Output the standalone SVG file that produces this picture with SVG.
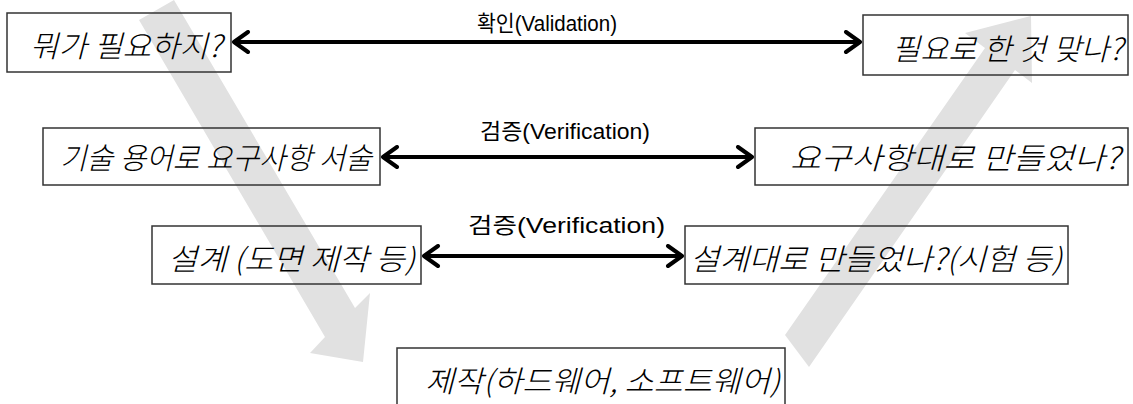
<svg xmlns="http://www.w3.org/2000/svg" width="1133" height="404" viewBox="0 0 1133 404">
  <defs>
    <marker id="chev" viewBox="0 0 20 24" refX="18" refY="12" markerWidth="20" markerHeight="24" markerUnits="userSpaceOnUse" orient="auto-start-reverse">
      <path d="M3,2 L17,12 L3,22" fill="none" stroke="#000" stroke-width="4" stroke-linecap="round" stroke-linejoin="round"/>
    </marker>
  </defs>
  <style>
    .flow { fill: #e1e1e1; stroke: none; }
    .box { fill: none; stroke: #333; stroke-width: 1.5; }
    .step { font-family: "Noto Sans CJK KR", "Noto Sans", sans-serif; font-style: italic; font-weight: 300; font-size: 30px; fill: #000; }
    .lbl { font-family: "Liberation Sans", "Noto Sans CJK KR", sans-serif; font-size: 22px; fill: #000; }
    .link { stroke: #000; stroke-width: 4; fill: none; marker-start: url(#chev); marker-end: url(#chev); }
  </style>

  <!-- descending and ascending flow bands -->
  <g id="flow-down">
    <polygon class="flow" points="139,20 174,0 355,308 370,293 363,362 310,353 325,337"/>
  </g>
  <g id="flow-up">
    <polygon class="flow" points="785,335 985,48 965,33 1031,16 1032,83 1015,70 809,367"/>
  </g>

  <!-- left column -->
  <g id="need">
    <rect class="box" x="7" y="13" width="224" height="59"/>
    <text class="step" x="30" y="57" textLength="192" lengthAdjust="spacingAndGlyphs">뭐가 필요하지?</text>
  </g>
  <g id="spec">
    <rect class="box" x="43" y="128" width="337" height="57"/>
    <text class="step" x="60" y="169" textLength="312" lengthAdjust="spacingAndGlyphs">기술 용어로 요구사항 서술</text>
  </g>
  <g id="design">
    <rect class="box" x="152" y="226" width="269" height="58"/>
    <text class="step" x="168" y="270" textLength="247" lengthAdjust="spacingAndGlyphs">설계 (도면 제작 등)</text>
  </g>

  <!-- right column -->
  <g id="fit">
    <rect class="box" x="863" y="15" width="265" height="60"/>
    <text class="step" x="892" y="60" textLength="231" lengthAdjust="spacingAndGlyphs">필요로 한 것 맞나?</text>
  </g>
  <g id="meets-spec">
    <rect class="box" x="755" y="128" width="373" height="57"/>
    <text class="step" x="790" y="169" textLength="330" lengthAdjust="spacingAndGlyphs">요구사항대로 만들었나?</text>
  </g>
  <g id="meets-design">
    <rect class="box" x="685" y="226" width="383" height="58"/>
    <text class="step" x="690" y="270" textLength="372" lengthAdjust="spacingAndGlyphs">설계대로 만들었나?(시험 등)</text>
  </g>

  <!-- bottom -->
  <g id="build">
    <rect class="box" x="397" y="348" width="388" height="60"/>
    <text class="step" x="425" y="392" textLength="355" lengthAdjust="spacingAndGlyphs">제작(하드웨어, 소프트웨어)</text>
  </g>

  <!-- paired checks -->
  <g id="connectors">
    <line class="link" x1="233" y1="42" x2="861" y2="42"/>
    <text class="lbl" x="477" y="31" textLength="140" lengthAdjust="spacingAndGlyphs">확인(Validation)</text>
    <line class="link" x1="382" y1="157" x2="753" y2="157"/>
    <text class="lbl" x="480" y="139" textLength="170" lengthAdjust="spacingAndGlyphs">검증(Verification)</text>
    <line class="link" x1="423" y1="256" x2="683" y2="256"/>
    <text class="lbl" x="468" y="233" textLength="197" lengthAdjust="spacingAndGlyphs">검증(Verification)</text>
  </g>
</svg>
